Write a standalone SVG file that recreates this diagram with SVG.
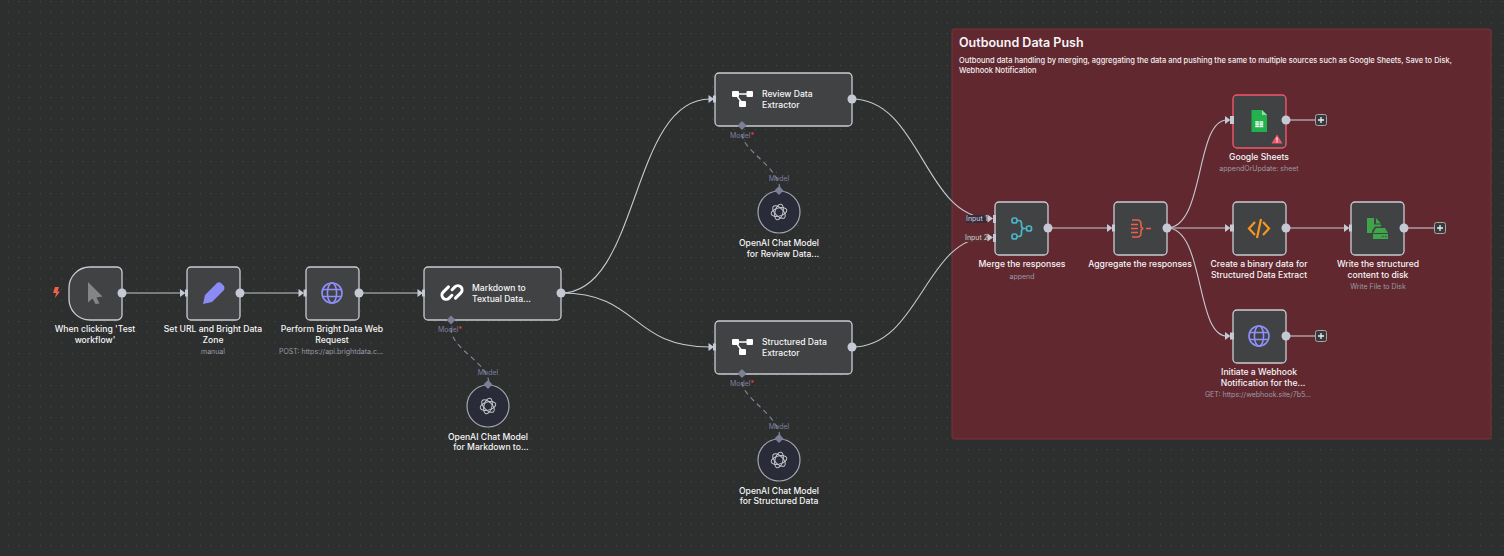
<svg xmlns="http://www.w3.org/2000/svg" width="1504" height="556" viewBox="0 0 1504 556">
<style>
text{font-family:"Inter","Liberation Sans",sans-serif}
.n{fill:#414244;stroke:#c9ccd4;stroke-width:1.3}
.l{font-size:8.6px;font-weight:500;fill:#f5f5f7;text-anchor:middle}
.t{font-size:8.6px;font-weight:500;fill:#f5f5f7}
.s{font-size:7px;fill:#9b9ba6;text-anchor:middle}
.m{font-size:7px;fill:#7d7f9e;text-anchor:middle}
.c{fill:none;stroke:#c6c9d0;stroke-width:1.1}
.d{fill:none;stroke:#82839a;stroke-width:1.2;stroke-dasharray:5 4}
.o{fill:#c5c9d4}
.a{fill:#c5c9d4}
.k{fill:#7c7f96}
.ai{fill:#2a2b38;stroke:#a5a7ae;stroke-width:1.2}
.w{fill:none;stroke:#c4c6cc;stroke-width:1}
.g{fill:none;stroke:#8f8ff7;stroke-width:1.6}
</style>
<defs>
<pattern id="dots" width="10.67" height="10.67" patternUnits="userSpaceOnUse"><circle cx="8.3" cy="1.5" r="0.6" fill="#505152"/></pattern>
<g id="ainode"><circle r="21" class="ai"/><g class="w"><ellipse rx="4" ry="8" transform="rotate(15)"/><ellipse rx="4" ry="8" transform="rotate(75)"/><ellipse rx="4" ry="8" transform="rotate(135)"/></g></g>
<g id="glob"><circle r="10" class="g"/><ellipse rx="4.6" ry="10" class="g"/><path d="M-9-3.500H9M-9 3.500H9" class="g"/></g>
<g id="ext"><rect x="-10.500" y="-8" width="7" height="6" rx="1" fill="#fff"/><rect x="4" y="-8" width="6.500" height="6" rx="1" fill="#fff"/><rect x="-3.500" y="2" width="7" height="6" rx="1" fill="#fff"/><path d="M-4-5H5M-5-2L-1 3" stroke="#fff" stroke-width="1.500" fill="none"/></g>
<path id="tri" d="M0-4L5.500 0L0 4Z"/>
<g id="plus"><rect x="-5.500" y="-5.500" width="11" height="11" rx="2" fill="#38393b" stroke="#a6a8ad"/><path d="M-3 0H3M0-3V3" stroke="#eee" stroke-width="1.300"/></g>
</defs>
<rect width="1504" height="556" fill="#2d2e2e"/>
<rect width="1504" height="556" fill="url(#dots)"/>
<rect id="sticky" x="952" y="29" width="539" height="410" rx="2" fill="#62282f" stroke="#7d3038"/>
<g id="connectors">
<path class="c" d="M122 293H182"/><path class="c" d="M240 293H300"/><path class="c" d="M359 293H419"/>
<path class="c" d="M561 293C640 293 630 99 710 99"/>
<path class="c" d="M561 293C640 293 630 347 710 347"/>
<path class="c" d="M852 99C920 99 925 218 989 218"/>
<path class="c" d="M852 347C920 347 925 237 989 237"/>
<path class="c" d="M1048 228H1109"/>
<path class="c" d="M1167 228C1205 228 1195 120 1227 120"/>
<path class="c" d="M1167 228H1227"/>
<path class="c" d="M1167 228C1205 228 1195 336 1227 336"/>
<path class="c" d="M1286 228H1346"/><path class="c" d="M1404 228H1434"/>
<path class="c" d="M1286 120H1315"/><path class="c" d="M1286 336H1315"/>
<path class="d" d="M451 328C451 350 489 362 489 384"/>
<path class="d" d="M742 134C742 150 780 168 780 190"/>
<path class="d" d="M742 382C742 398 780 416 780 438"/>
</g>
<g id="group-title"><text x="959" y="47" font-size="12.5" font-weight="600" fill="#f5f5f7">Outbound Data Push</text>
<text x="959" y="63" font-size="7.5" font-weight="500" fill="#f0eef0">Outbound data handling by merging, aggregating the data and pushing the same to multiple sources such as Google Sheets, Save to Disk,</text>
<text x="959" y="73" font-size="7.5" font-weight="500" fill="#f0eef0">Webhook Notification</text></g>

<g id="trigger"><path class="n" d="M69 288A21 21 0 0 1 90 267H117A5 5 0 0 1 122 272V315A5 5 0 0 1 117 320H90A21 21 0 0 1 69 299Z"/>
<path d="M88 282L102.500 296.500L96.500 297.500L99.500 303.500L95.500 304L92.500 298.500L88 302.500Z" fill="#858585"/>
<path d="M55 287L59 287L57.500 291.500L60 291.500L55 298L56 293L53 293Z" fill="#f0604c"/>
<circle class="o" cx="122" cy="293" r="4.500"/>
<text class="l" x="95" y="332">When clicking 'Test</text><text class="l" x="95" y="343">workflow'</text></g>

<g id="set"><rect class="n" x="187" y="267" width="53" height="53" rx="4"/>
<path d="M203 304L205 295L217 283Q219 281.500 221 283L224 286Q225 288 224 290L212 302Z" fill="#8b8bf5"/>
<use href="#tri" x="180" y="293" class="a"/><rect class="a" x="185" y="289.500" width="3" height="7"/><circle class="o" cx="240" cy="293" r="4.500"/>
<text class="l" x="213" y="332">Set URL and Bright Data</text><text class="l" x="213" y="343">Zone</text><text class="s" x="213" y="354">manual</text></g>

<g id="request"><rect class="n" x="306" y="267" width="53" height="53" rx="4"/>
<use href="#glob" x="332" y="293"/>
<use href="#tri" x="298.500" y="293" class="a"/><rect class="a" x="303.500" y="289.500" width="3" height="7"/><circle class="o" cx="359" cy="293" r="4.500"/>
<text class="l" x="332" y="332">Perform Bright Data Web</text><text class="l" x="332" y="343">Request</text><text class="s" x="331" y="354">POST: https://api.brightdata.c...</text></g>

<g id="markdown"><rect class="n" x="424" y="267" width="137" height="53" rx="4"/>
<g transform="translate(452 292.500) rotate(-45)" fill="none" stroke="#fff" stroke-width="3" stroke-linecap="round"><path d="M1.500-6.500H-6A4.200 4.200 0 0 0-6 1.900H-2"/><path d="M-1.500 6.500H6A4.200 4.200 0 0 0 6-1.900H2"/></g>
<use href="#tri" x="417.500" y="293" class="a"/><rect class="a" x="422" y="289.500" width="3" height="7"/><circle class="o" cx="561" cy="293" r="4.500"/>
<text class="t" x="472" y="291">Markdown to</text><text class="t" x="472" y="302">Textual Data...</text>
<path class="k" d="M451 315.500L455.500 320L451 324.500L446.500 320Z"/><text class="m" x="450" y="332">Model<tspan fill="#f0455a">*</tspan></text></g>

<g id="ai-markdown"><use href="#ainode" x="488" y="406"/><path class="k" d="M488 380L492.500 384.500L488 389L483.500 384.500Z"/><text class="m" x="488" y="375">Model</text>
<text class="l" x="488" y="440">OpenAI Chat Model</text><text class="l" x="491" y="450">for Markdown to...</text></g>

<g id="review"><rect class="n" x="715" y="73" width="137" height="53" rx="4"/><use href="#ext" x="742.500" y="99"/>
<use href="#tri" x="708.500" y="99" class="a"/><rect class="a" x="713" y="95.500" width="3" height="7"/><circle class="o" cx="852" cy="99" r="4.500"/>
<text class="t" x="762" y="97">Review Data</text><text class="t" x="762" y="108">Extractor</text>
<path class="k" d="M742 121L746.500 125.500L742 130L737.500 125.500Z"/><text class="m" x="742" y="138">Model<tspan fill="#f0455a">*</tspan></text></g>

<g id="ai-review"><use href="#ainode" x="779" y="212"/><path class="k" d="M779 186L783.500 190.500L779 195L774.500 190.500Z"/><text class="m" x="779" y="181">Model</text>
<text class="l" x="779" y="246">OpenAI Chat Model</text><text class="l" x="783" y="257">for Review Data...</text></g>

<g id="structured"><rect class="n" x="715" y="321" width="137" height="53" rx="4"/><use href="#ext" x="742.500" y="347"/>
<use href="#tri" x="708.500" y="347" class="a"/><rect class="a" x="713" y="343.500" width="3" height="7"/><circle class="o" cx="852" cy="347" r="4.500"/>
<text class="t" x="762" y="345">Structured Data</text><text class="t" x="762" y="356">Extractor</text>
<path class="k" d="M742 369L746.500 373.500L742 378L737.500 373.500Z"/><text class="m" x="742" y="386">Model<tspan fill="#f0455a">*</tspan></text></g>

<g id="ai-structured"><use href="#ainode" x="779" y="460"/><path class="k" d="M779 434L783.500 438.500L779 443L774.500 438.500Z"/><text class="m" x="779" y="429">Model</text>
<text class="l" x="779" y="494">OpenAI Chat Model</text><text class="l" x="779" y="504">for Structured Data</text></g>

<g id="merge"><rect class="n" x="995" y="202" width="53" height="53" rx="4"/>
<g fill="none" stroke="#4ab6c8" stroke-width="1.700"><rect x="1012" y="218" width="5" height="5" rx="2"/><rect x="1012" y="234" width="5" height="5" rx="2"/><rect x="1026.500" y="226" width="5" height="5" rx="2"/><path d="M1017 220.500H1018.500Q1021.500 220.500 1021.500 223V225.500Q1021.500 228.500 1024 228.500H1026.500M1017 236.500H1018.500Q1021.500 236.500 1021.500 234V231.500Q1021.500 228.500 1024 228.500"/></g>
<use href="#tri" x="987.500" y="218.500" class="a"/><rect class="a" x="993" y="215" width="3" height="8"/>
<use href="#tri" x="987.500" y="237.500" class="a"/><rect class="a" x="993" y="234" width="3" height="8"/>
<circle class="o" cx="1048" cy="228" r="4.500"/>
<rect x="966" y="215" width="21" height="8" fill="#3a2a34"/><text x="966" y="221" font-size="7" fill="#c8d2f0">Input 1</text>
<rect x="965" y="234" width="22" height="8" fill="#5a3030"/><text x="965" y="240" font-size="7" fill="#d8d0d0">Input 2</text>
<text class="l" x="1022" y="267">Merge the responses</text><text class="s" x="1022" y="279">append</text></g>

<g id="aggregate"><rect class="n" x="1114" y="202" width="53" height="53" rx="4"/>
<g fill="none" stroke="#f05d4c" stroke-width="1.600"><path d="M1132 220H1137Q1141 220 1141 224V226Q1141 228.500 1143.500 228.500Q1141 228.500 1141 231V233Q1141 237 1137 237H1132M1131 224.500H1138M1131 228.500H1138M1131 232.500H1138M1146 228.500H1151"/></g>
<use href="#tri" x="1107" y="228" class="a"/><rect class="a" x="1112" y="224.500" width="3" height="7"/><circle class="o" cx="1167" cy="228" r="4.500"/>
<text class="l" x="1140" y="267">Aggregate the responses</text></g>

<g id="sheets"><rect x="1233" y="95" width="53" height="53" rx="4" fill="#414244" stroke="#f0576b" stroke-width="1.400"/>
<path d="M1251.500 110H1262L1267 115V132H1251.500Z" fill="#23b14d"/><path d="M1262 110L1267 115H1262Z" fill="#8fdca8"/>
<path d="M1255 121H1263.500V127.500H1255ZM1255 123H1263.500M1255 125.300H1263.500M1259.200 121V127.500" fill="#fff" stroke="#23b14d" stroke-width="0.600"/>
<path d="M1277 134.500L1282.500 143.500H1271.500Z" fill="#f0576b"/><rect x="1276.400" y="137.500" width="1.200" height="3" fill="#fff"/><rect x="1276.400" y="141.200" width="1.200" height="1.200" fill="#fff"/>
<use href="#tri" x="1225" y="120" class="a"/><rect class="a" x="1230" y="116" width="4" height="8"/><circle class="o" cx="1286" cy="120" r="4.500"/>
<use href="#plus" x="1321" y="120"/>
<text class="l" x="1259" y="160">Google Sheets</text><text class="s" x="1259" y="171">appendOrUpdate: sheet</text></g>

<g id="code"><rect class="n" x="1233" y="202" width="53" height="53" rx="4"/>
<g fill="none" stroke="#f7971e" stroke-width="2.200"><path d="M1255 222L1249 228.500L1255 235M1263 222L1269 228.500L1263 235M1261 219L1257 238"/></g>
<use href="#tri" x="1225" y="228" class="a"/><rect class="a" x="1230" y="224.500" width="4" height="7"/><circle class="o" cx="1286" cy="228" r="4.500"/>
<text class="l" x="1259" y="267">Create a binary data for</text><text class="l" x="1259" y="278">Structured Data Extract</text></g>

<g id="disk"><rect class="n" x="1351" y="202" width="53" height="53" rx="4"/>
<path d="M1367 218H1374V224.500H1381V226.500H1375L1372 231V233H1367ZM1376 218L1381 223.500H1376Z" fill="#3fa54a"/>
<path d="M1376 228H1385L1388 233H1373Z" fill="#3fa54a"/><path d="M1373 234H1388V239H1373Z" fill="#3fa54a"/><path d="M1382 236.500H1383.500M1385 236.500H1386.500" stroke="#414244" stroke-width="1"/>
<use href="#tri" x="1344" y="228" class="a"/><rect class="a" x="1349" y="224.500" width="3" height="7"/><circle class="o" cx="1404" cy="228" r="4.500"/>
<use href="#plus" x="1440" y="228"/>
<text class="l" x="1378" y="267">Write the structured</text><text class="l" x="1378" y="278">content to disk</text><text class="s" x="1378" y="289">Write File to Disk</text></g>

<g id="webhook"><rect class="n" x="1233" y="310" width="53" height="53" rx="4"/>
<use href="#glob" x="1259" y="336"/>
<use href="#tri" x="1225" y="336" class="a"/><rect class="a" x="1230" y="332.500" width="4" height="7"/><circle class="o" cx="1286" cy="336" r="4.500"/>
<use href="#plus" x="1321" y="336"/>
<text class="l" x="1259" y="375">Initiate a Webhook</text><text class="l" x="1263" y="386">Notification for the...</text><text class="s" x="1258" y="397">GET: https://webhook.site/7b5...</text></g>
</svg>
